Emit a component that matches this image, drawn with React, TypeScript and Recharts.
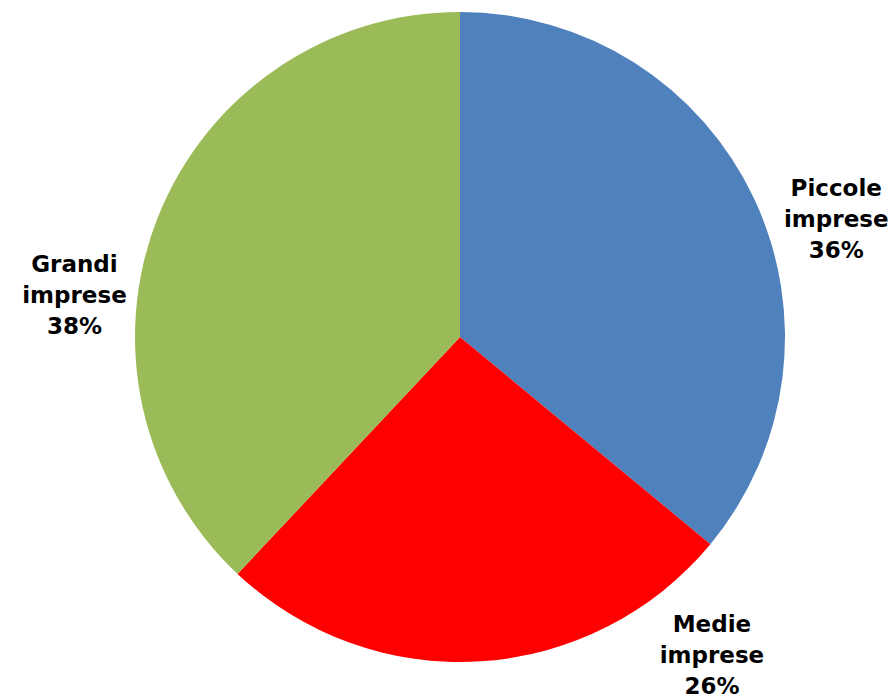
import { PieChart, Pie, Cell } from 'recharts';

const categories = ['Piccole imprese', 'Medie imprese', 'Grandi imprese'];
const shares = [36, 26, 38];

const colors = ['#4F81BD', '#FF0000', '#9BBB59'];

// where each label sits (polar, relative to the pie centre)
const labelPos = [
  { angle: 16.3, r: 392 },
  { angle: -52.3, r: 412 },
  { angle: 175, r: 387 },
];

const data = categories.map((name, i) => ({ name, value: shares[i] }));

const RADIAN = Math.PI / 180;

const renderLabel = (props: any) => {
  const { cx, cy, index } = props;
  const pos = labelPos[index];
  const x = cx + pos.r * Math.cos(pos.angle * RADIAN);
  const y = cy - pos.r * Math.sin(pos.angle * RADIAN);
  const words = categories[index].split(' ');
  return (
    <text
      x={x}
      y={y}
      textAnchor="middle"
      fill="#000"
      fontFamily="DejaVu Sans, Verdana, sans-serif"
      fontWeight="bold"
      fontSize={23}
    >
      <tspan x={x} dy={-31}>{words[0]}</tspan>
      <tspan x={x} dy={31}>{words[1]}</tspan>
      <tspan x={x} dy={31}>{shares[index]}%</tspan>
    </text>
  );
};

export default function App() {
  return (
    <div style={{ position: 'absolute', left: 0, top: 0, width: 895, height: 698, background: '#fff' }}>
      <PieChart width={895} height={698} margin={{ top: 0, right: 0, bottom: 0, left: 0 }}>
        <Pie
          data={data}
          dataKey="value"
          nameKey="name"
          cx={460}
          cy={337}
          outerRadius={325}
          startAngle={90}
          endAngle={-270}
          stroke="none"
          label={renderLabel}
          labelLine={false}
          isAnimationActive={false}
        >
          {data.map((d, i) => (
            <Cell key={d.name} fill={colors[i]} />
          ))}
        </Pie>
      </PieChart>
    </div>
  );
}
